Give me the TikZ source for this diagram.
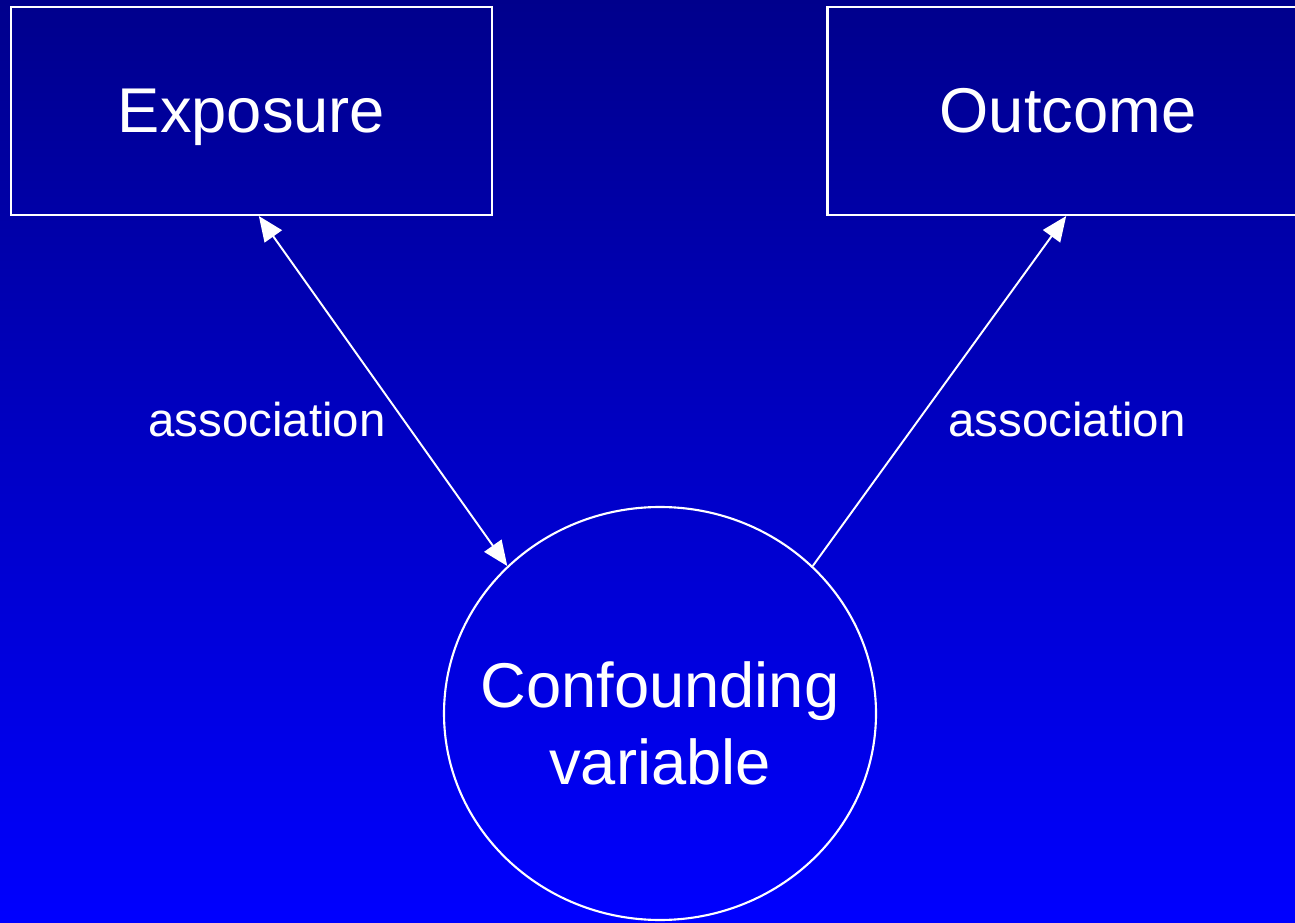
\documentclass[tikz,border=0pt]{standalone}
\usepackage{fontspec}
\setmainfont{Liberation Sans}
\usetikzlibrary{arrows.meta,shapes.geometric}
\definecolor{navytop}{RGB}{0,0,140}
\definecolor{bluebottom}{RGB}{0,0,255}
\begin{document}
\begin{tikzpicture}

      \tikzset{factor/.style={draw=white, line width=1.2pt, rectangle, minimum width=9.62cm, minimum height=4.16cm, text=white, text height=34pt, text depth=9pt, font=\fontsize{36}{43}\selectfont},
               confounder/.style={draw=white, line width=1.2pt, ellipse, inner sep=0pt, minimum width=8.64cm, minimum height=8.26cm},
               bigtext/.style={text=white, align=center, font=\fontsize{36}{44}\selectfont},
               assoc/.style={text=white, font=\fontsize{27}{32}\selectfont},
               link/.style={draw=white, line width=1.1pt, -{Triangle[length=0.5cm, width=0.42cm]}}}
%% Background
      	\useasboundingbox (0,0) rectangle (25.9,18.44);
      	\clip (0,0) rectangle (25.9,18.44);
      	\shade[top color=navytop, bottom color=bluebottom] (0,0) rectangle (25.9,18.44);
%% Vertices
      	\node[factor] (exp) at (5.03,16.22) {Exposure};
      	\node[factor] (out) at (21.36,16.22) {Outcome};
      	\node[confounder] (conf) at (13.2,4.17) {};
      	\node[bigtext, yshift=-0.2cm] (confText) at (conf.center) {Confounding\\variable};
%Labels
      	\node[assoc] (assocL) at (5.34,10.04) {association};
      	\node[assoc] (assocR) at (21.34,10.04) {association};
%Edges
		\path (conf.136) edge[link, {Triangle[length=0.5cm, width=0.42cm]}-{Triangle[length=0.5cm, width=0.42cm]}] (exp.-86);
		\path (conf.44) edge[link] (out.-91);

	\end{tikzpicture}
\end{document}
